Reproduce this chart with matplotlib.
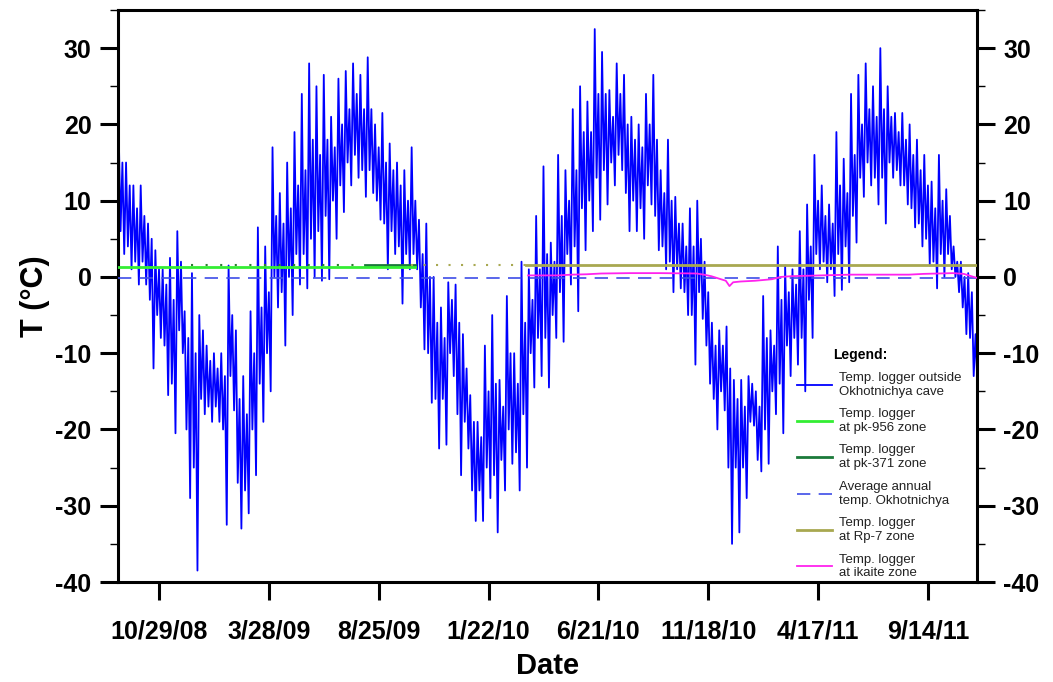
import numpy as np
import matplotlib
matplotlib.use("Agg")
import matplotlib.pyplot as plt
from matplotlib.ticker import MultipleLocator

plt.rcParams['font.family'] = ['Liberation Sans', 'DejaVu Sans']
plt.rcParams['axes.unicode_minus'] = False

# --- data (day offsets from 2008-09-03) ---
start = np.datetime64('2008-09-03')
end = np.datetime64('2011-11-20')

# outside logger, per 10-day window: spike max / spike min
out_hi = [19, 15, 12, 12, 7, 3.5, 1, 2.5, 6, -4.5,
          0.5, -5, -9, -10, -10, 1.5, -7, -13, -4.5, 6.5,
          4, 17, 11, 15, 19, 24, 28, 25, 26.5, 21,
          26, 27, 28, 26.5, 28.8, 20, 21.5, 17.5, 15, 14,
          17, 7.5, 7, 0, -4, -0.7, -1, -7.5, -15.5, -19,
          -9, -5, -13.5, -2.5, -10, 2, 1, 8, 14.5, 4.5,
          16, 14, 22, 25, 23, 32.5, 29.5, 24.5, 28, 26.5,
          21, 20, 24, 26.5, 14, 18, 10.5, 7, 9, 10,
          2, -6, -7, -6.5, -13.5, -13.5, -13, -15, -2.5, -7,
          4, 1.5, 1, 6, 9.5, 16, 12, 9.5, 19, 15.5,
          24, 26.5, 28, 25, 30, 25, 21.5, 21.5, 20, 18,
          16, 12.5, 16, 11.5, 4, 2, 0.5, -7.5]
out_lo = [3, 1, -1, -1, -12, -8, -15.5, -20.5, -10, -29,
          -38.5, -18, -19, -19, -32.5, -17.5, -33, -31, -26, -19,
          -15, -4, -9, -5, -1, -1.5, 0, -0.5, -0.3, 5,
          8.5, 12, 13, 10.5, 11, 7.5, 1, 3, -3.5, 1,
          1, -9.5, -16.5, -22.5, -22, -13, -26, -22.5, -32, -32,
          -29, -33.5, -28, -24.5, -28, -25, -14.5, -13, -14.5, -8,
          -8.5, -1, -4.5, 3.5, 6, 7.5, 9.5, 12, 14, 6,
          6, 5, 9.5, 3.5, 1, -2, -1.5, -5, -11.5, -5.5,
          -14, -20, -17.5, -35, -33.5, -29, -19.5, -25.5, -24.5, -18,
          -20.5, -13, -11.5, -15, -8, 1, -0.7, -2.5, -1.7, -0.7,
          4.5, 10.5, 12, 9.5, 7, 13, 12, 9.5, 6.5, 4,
          1.5, -1.5, 0, 1, -2, -7.5, -13, -17]
# edges of the dense core of the band in the same windows
core_hi = [15, 12, 9, 8, 5, 1, -1, -3, 2, -8,
           -10, -7, -11, -12, -13, -5, -16, -18, -10, -4,
           -2, 8, 7, 9, 12, 14, 18, 16, 18, 17,
           20, 22, 24, 22, 22, 17, 15, 14, 12, 10,
           10, 3, 0, -6, -8, -3, -6, -12, -19, -21,
           -15, -14, -17, -10, -14, -6, -3, 1, 3, 2,
           8, 10, 14, 19, 19, 24, 24, 21, 24, 20,
           18, 17, 20, 18, 11, 10, 7, 4, 4, 5,
           -2, -9, -9, -12, -16, -17, -14, -17, -8, -9,
           -3, -2, -1, 1, 4, 10, 8, 7, 12, 11,
           16, 20, 22, 21, 22, 21, 19, 18, 16, 14,
           12, 9, 10, 8, 2, 0, -2, -9]
core_lo = [6, 4, 2, 2, -3, -5, -9, -14, -7, -20,
           -25, -16, -17, -17, -20, -13, -27, -28, -20, -14,
           -10, 0, -2, 0, 3, 3, 5, 6, 8, 10,
           12, 15, 16, 14, 14, 10, 7, 6, 4, 3,
           3, -4, -10, -16, -16, -10, -18, -19, -28, -28,
           -25, -26, -24, -20, -23, -18, -10, -8, -8, -5,
           -2, 3, 4, 9, 10, 13, 14, 15, 16, 11,
           10, 9, 12, 8, 4, 2, 1, -2, -5, -2,
           -9, -16, -15, -25, -25, -25, -19, -24, -20, -15,
           -14, -9, -8, -8, -3, 3, 2, 1, 3, 4,
           8, 13, 15, 13, 13, 15, 14, 12, 9, 7,
           5, 2, 3, 3, 0, -4, -8, -14]

pk956_days = [0, 405]
pk956_vals = [1.35, 1.35]
pk371_days = [337, 405]
pk371_vals = [1.5, 1.5]
pk371_sparse_days = [100, 337]
rp7_days = [557, 1173]
rp7_vals = [1.5, 1.5]
rp7_sparse_days = [400, 557]
avg_days = [0, 1173]
avg_vals = [-0.2, -0.2]
ika_days = [560, 600, 620, 640, 660, 700, 740, 790, 800, 810, 820, 830, 835,
            840, 850, 870, 893, 905, 920, 960, 1000, 1080, 1100, 1140, 1155,
            1165, 1172]
ika_vals = [0.2, 0.2, 0.3, 0.35, 0.45, 0.5, 0.5, 0.45, 0.3, 0.1, -0.2, -0.5,
            -1.2, -0.7, -0.6, -0.5, -0.3, 0.0, 0.1, 0.2, 0.3, 0.3, 0.4, 0.5,
            0.4, 0.1, -0.1]

tick_labels = ['10/29/08', '3/28/09', '8/25/09', '1/22/10',
               '6/21/10', '11/18/10', '4/17/11', '9/14/11']
tick_dates = np.array(['2008-10-29', '2009-03-28', '2009-08-25', '2010-01-22',
                       '2010-06-21', '2010-11-18', '2011-04-17', '2011-09-14'],
                      dtype='datetime64[D]')


def d(days):
    return start + np.round(np.array(days, dtype=float) * 24).astype('timedelta64[h]')


# each 10-day window drawn as max -> core low -> core high -> min
n = len(out_hi)
win = np.arange(n) * 10.0
t_out = np.column_stack([win + 1, win + 3.5, win + 6, win + 8.5]).ravel()
v_out = np.column_stack([out_hi, core_lo, core_hi, out_lo]).ravel()

fig = plt.figure(figsize=(10.53, 6.82), dpi=100)
ax = fig.add_axes([118 / 1053, 1 - 582 / 682, 859 / 1053, 572 / 682])

ax.plot(d(t_out), v_out, color='#0000ff', lw=1.3,
        label='Temp. logger outside\nOkhotnichya cave', zorder=2)
ax.plot(d(pk956_days), pk956_vals, color='#33ee33', lw=2.0,
        label='Temp. logger\nat pk-956 zone', zorder=4)
ax.plot(d(pk371_sparse_days), [1.55, 1.55], color='#2e7d32', lw=1.5,
        ls=(0, (1, 6)), zorder=3)
ax.plot(d(pk371_days), pk371_vals, color='#1b7a3a', lw=2.0,
        label='Temp. logger\nat pk-371 zone', zorder=3)
ax.plot(d(avg_days), avg_vals, color='#3d4de8', lw=1.2, ls=(0, (8, 5)),
        label='Average annual\ntemp. Okhotnichya', zorder=3)
ax.plot(d(rp7_sparse_days), [1.5, 1.5], color='#a8a850', lw=1.5,
        ls=(0, (1, 5)), zorder=3)
ax.plot(d(rp7_days), rp7_vals, color='#a8a850', lw=2.0,
        label='Temp. logger\nat Rp-7 zone', zorder=3)
ax.plot(d(ika_days), ika_vals, color='#ff22ee', lw=1.3,
        label='Temp. logger\nat ikaite zone', zorder=4)

ax.set_xlim(start, end)
ax.set_ylim(-40, 35)
ax.set_xticks(tick_dates)
ax.set_xticklabels(tick_labels)
ax.set_yticks(np.arange(-40, 31, 10))
ax.yaxis.set_minor_locator(MultipleLocator(5))

for s in ax.spines.values():
    s.set_linewidth(2.2)
ax.tick_params(axis='both', which='major', direction='out', length=13,
               width=2.2, labelsize=18)
ax.tick_params(axis='y', which='major', right=True, labelright=True, pad=6)
ax.tick_params(axis='y', which='minor', direction='out', length=6, width=1,
               right=True)
ax.tick_params(axis='x', which='major', pad=14)
for lab in ax.get_xticklabels() + ax.get_yticklabels():
    lab.set_fontweight('bold')
for t in ax.yaxis.get_major_ticks():
    t.label2.set_fontweight('bold')

ax.set_xlabel('Date', fontsize=21, fontweight='bold', labelpad=6)
ax.set_ylabel('T (\u00b0C)', fontsize=22, fontweight='bold', labelpad=4)

leg = ax.legend(loc='lower left', bbox_to_anchor=((794 - 118) / 859, 0.0),
                frameon=False, fontsize=9.5, handlelength=2.7,
                handletextpad=0.5, labelspacing=0.8, borderpad=0.2,
                borderaxespad=0.0)
for txt in leg.get_texts():
    txt.set_color('#222222')
ax.text((833 - 118) / 859, (582 - 355) / 572, 'Legend:', transform=ax.transAxes,
        fontsize=10, fontweight='bold', ha='left', va='center')

fig.savefig('out.png', dpi=100)
